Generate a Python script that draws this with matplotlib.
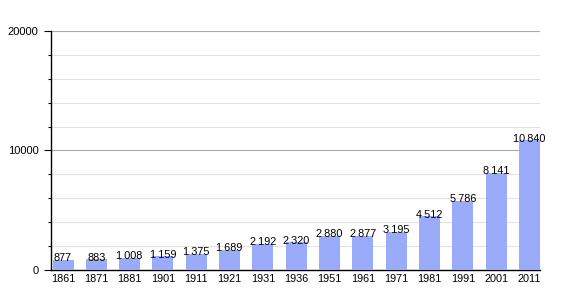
import matplotlib
matplotlib.use("Agg")
import matplotlib.pyplot as plt
from matplotlib.ticker import MultipleLocator

years = ["1861", "1871", "1881", "1901", "1911", "1921", "1931", "1936",
         "1951", "1961", "1971", "1981", "1991", "2001", "2011"]
population = [877, 883, 1008, 1159, 1375, 1689, 2192, 2320,
              2880, 2877, 3195, 4512, 5786, 8141, 10840]
y_ticks = [0, 10000, 20000]

plt.rcParams["font.family"] = ["Liberation Sans", "DejaVu Sans"]

fig = plt.figure(figsize=(5.7, 3.0), dpi=100)
ax = fig.add_axes([0.0895, 0.1, 0.858, 0.797])

x = range(len(years))
bars = ax.bar(x, population, width=0.63, color="#9aabf9", zorder=3)

for i, v in enumerate(population):
    label = f"{v:,}".replace(",", "\u2009")
    ax.annotate(label, (i, v), xytext=(0, -2.5), textcoords="offset points",
                ha="center", va="bottom", fontsize=7.8, zorder=4)

ax.set_xlim(-0.36, len(years) - 1 + 0.315)
ax.set_ylim(0, 20000)
ax.set_yticks(y_ticks)
ax.set_yticklabels([str(t) for t in y_ticks], fontsize=8)
ax.yaxis.set_minor_locator(MultipleLocator(2000))
ax.set_xticks(list(x))
ax.set_xticklabels(years, fontsize=7.8)

ax.grid(axis="y", which="major", color="#aaaaaa", linewidth=0.8, zorder=1)
ax.grid(axis="y", which="minor", color="#e2e2e2", linewidth=0.8, zorder=1)
ax.tick_params(axis="x", length=0, pad=3)
ax.tick_params(axis="y", which="major", length=5, width=0.8, pad=4)
ax.tick_params(axis="y", which="minor", length=2, width=0.8)

for side in ("top", "right"):
    ax.spines[side].set_visible(False)
ax.spines["left"].set_linewidth(1.0)
ax.spines["bottom"].set_linewidth(1.0)

fig.savefig("out.png", dpi=100)
